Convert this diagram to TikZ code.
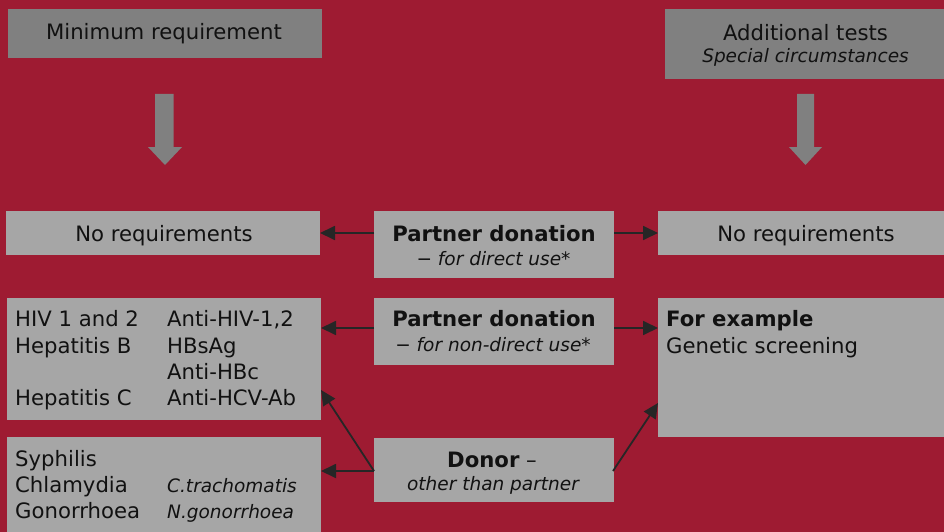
\documentclass[tikz,border=0pt]{standalone}
\usepackage{fontspec}
\setmainfont{DejaVu Sans}
\usetikzlibrary{arrows.meta}
\definecolor{bgred}{RGB}{158,27,50}
\definecolor{hdrgray}{RGB}{128,128,128}
\definecolor{boxgray}{RGB}{166,166,166}
\definecolor{arrowdark}{RGB}{38,38,38}
\definecolor{txt}{RGB}{17,17,17}
\begin{document}
\begin{tikzpicture}[x=1pt,y=-1pt,
  box/.style={fill=boxgray, draw=none, inner sep=0pt, outer sep=0pt},
  hdr/.style={fill=hdrgray, draw=none, inner sep=0pt, outer sep=0pt},
  arr/.style={draw=arrowdark, line width=1.8pt, -{Triangle[length=15pt,width=14pt]}},
  mainf/.style={font=\fontsize{21.2}{25}\selectfont},
  subf/.style={font=\fontsize{18.5}{22}\selectfont\itshape},
  lbl/.style={anchor=base west, inner sep=0pt, text=txt},
  ctr/.style={anchor=base, inner sep=0pt, text=txt}]
\fill[bgred] (0,0) rectangle (944,532);
\useasboundingbox (0,0) rectangle (944,532);

% header boxes
\node[hdr, minimum width=314pt, minimum height=49pt] (hl) at (165,33.5) {};
\node[hdr, minimum width=281pt, minimum height=70pt] (hr) at (805.5,44) {};
\node[ctr, mainf] (hlt) at (164,40) {Minimum requirement};
\node[ctr, mainf] (hrt) at (805.5,41) {Additional tests};
\node[ctr, subf] (hrs) at (805.5,63) {Special circumstances};

% block arrows
\fill[hdrgray] (155,94) -- (173.5,94) -- (173.5,147) -- (182,147) -- (165,165) -- (148,147) -- (155,147) -- cycle;
\fill[hdrgray] (797,94) -- (814,94) -- (814,147) -- (822,147) -- (805.5,165) -- (789,147) -- (797,147) -- cycle;

% row 1
\node[box, minimum width=314pt, minimum height=44pt] (nrl) at (163,233) {};
\node[box, minimum width=240pt, minimum height=67pt] (pd1) at (494,244.5) {};
\node[box, minimum width=296pt, minimum height=44pt] (nrr) at (806,233) {};
\node[ctr, mainf] at (164,241) {No requirements};
\node[ctr, mainf] at (806,241) {No requirements};
\node[ctr, mainf] at (494,241) {\bfseries Partner donation};
\node[ctr, subf] at (493.5,265) {− for direct use*};

% row 2
\node[box, minimum width=314pt, minimum height=122pt] (tl) at (164,359) {};
\node[box, minimum width=240pt, minimum height=67pt] (pd2) at (494,331.5) {};
\node[box, minimum width=296pt, minimum height=139pt] (fe) at (806,367.5) {};
\node[ctr, mainf] at (494,326.7) {\bfseries Partner donation};
\node[ctr, subf] at (493,351.7) {− for non-direct use*};
\node[lbl, mainf] at (15,326.7) {HIV 1 and 2};
\node[lbl, mainf] at (15,353.3) {Hepatitis B};
\node[lbl, mainf] at (15,405) {Hepatitis C};
\node[lbl, mainf] at (167,326.7) {Anti-HIV-1,2};
\node[lbl, mainf] at (167,353.3) {HBsAg};
\node[lbl, mainf] at (167,379.3) {Anti-HBc};
\node[lbl, mainf] at (167,405) {Anti-HCV-Ab};
\node[lbl, mainf] at (666,326.7) {\bfseries For example};
\node[lbl, mainf] at (666,353.3) {Genetic screening};

% row 3
\node[box, minimum width=314pt, minimum height=103pt] (bl) at (164,488.5) {};
\node[box, minimum width=240pt, minimum height=64pt] (dn) at (494,470) {};
\node[ctr, mainf] at (492,467) {\textbf{Donor} –};
\node[ctr, subf] at (493,490) {other than partner};
\node[lbl, mainf] at (15,466.7) {Syphilis};
\node[lbl, mainf] at (15,492.7) {Chlamydia};
\node[lbl, mainf] at (15,518.3) {Gonorrhoea};
\node[lbl, subf] at (167,492.7) {C.trachomatis};
\node[lbl, subf] at (167,518.3) {N.gonorrhoea};

% connectors
\draw[arr] ([yshift=11.5pt]pd1.west) -- (nrl.east);
\draw[arr] ([yshift=11.5pt]pd1.east) -- (nrr.west);
\draw[arr] ([yshift=3.5pt]pd2.west) -- ([yshift=31pt]tl.east);
\draw[arr] ([yshift=3.5pt]pd2.east) -- ([yshift=39.5pt]fe.west);
\draw[arr] ([yshift=-1pt]dn.west) -- ([yshift=17.5pt]bl.east);
\draw[arr] ([yshift=-1pt]dn.west) -- ([yshift=-31pt]tl.east);
\draw[arr] ([xshift=-1pt,yshift=-1pt]dn.east) -- ([yshift=-35.5pt]fe.west);
\end{tikzpicture}
\end{document}
